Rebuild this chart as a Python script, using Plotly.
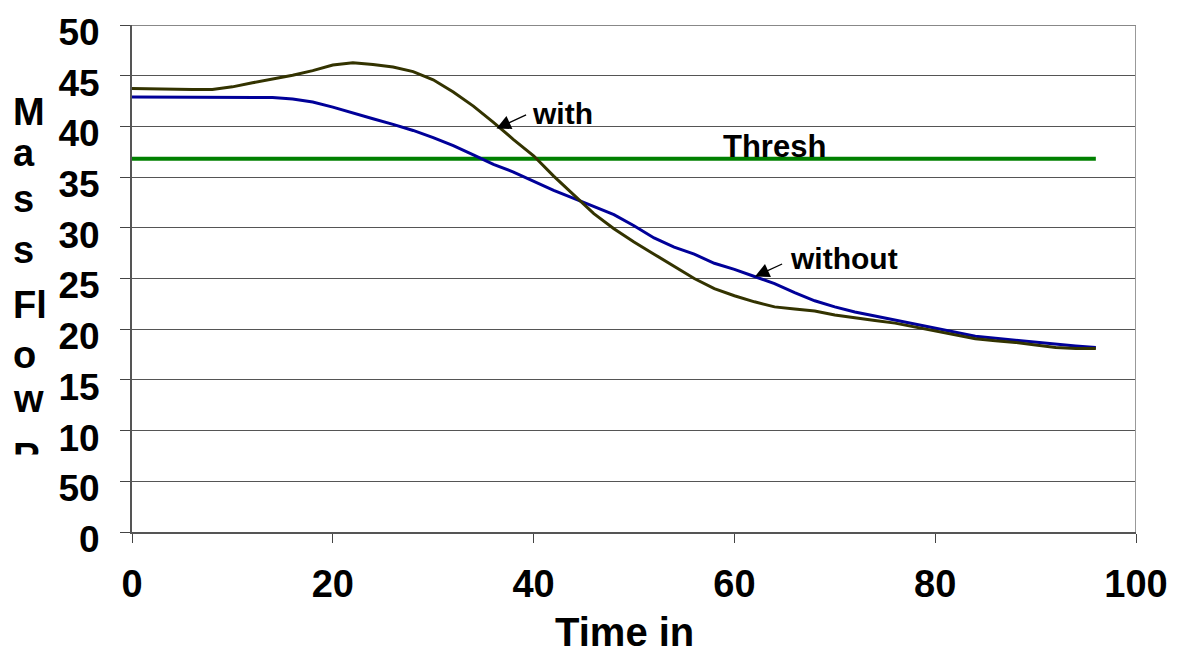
import plotly.graph_objects as go

# ---- data ----
time = [0, 2, 4, 6, 8, 10, 12, 14, 16, 18, 20, 22, 24, 26, 28, 30, 32, 34, 36, 38, 40, 42, 44, 46, 48,
        50, 52, 54, 56, 58, 60, 62, 64, 66, 68, 70, 72, 74, 76, 78, 80, 82, 84, 86, 88, 90, 92, 94, 96]
with_flow = [43.75, 43.7, 43.65, 43.65, 43.65, 43.9, 44.3, 44.65, 45.05, 45.5, 46.05, 46.27, 46.1, 45.85,
             45.4, 44.6, 43.4, 42.0, 40.4, 38.7, 37.1, 35.1, 33.2, 31.4, 29.9, 28.6, 27.4, 26.2, 25.0,
             24.0, 23.3, 22.7, 22.2, 22.0, 21.8, 21.4, 21.1, 20.85, 20.6, 20.2, 19.8, 19.4, 19.05, 18.85,
             18.7, 18.45, 18.2, 18.1, 18.1]
without_flow = [42.9, 42.9, 42.9, 42.9, 42.9, 42.9, 42.9, 42.85, 42.7, 42.4, 41.9, 41.3, 40.75, 40.2,
                39.6, 38.9, 38.1, 37.2, 36.25, 35.5, 34.6, 33.7, 32.9, 32.1, 31.3, 30.2, 29.0, 28.1, 27.4,
                26.5, 25.9, 25.2, 24.5, 23.6, 22.8, 22.2, 21.7, 21.3, 20.9, 20.5, 20.1, 19.7, 19.3, 19.1,
                18.9, 18.7, 18.5, 18.35, 18.2]
thresh_x = [0, 96]
thresh_y = [36.8, 36.8]

y_tickvals = [0, 5, 10, 15, 20, 25, 30, 35, 40, 45, 50]
y_ticktext = ["0", "50", "10", "15", "20", "25", "30", "35", "40", "45", "50"]
x_tickvals = [0, 20, 40, 60, 80, 100]
x_ticktext = ["0", "20", "40", "60", "80", "100"]
y_title_letters = ["M", "a", "s", "s", "Fl", "o", "w", "R"]

FONT = "Liberation Sans, Arial, sans-serif"

fig = go.Figure()
fig.add_trace(go.Scatter(x=thresh_x, y=thresh_y, mode="lines", name="Thresh",
                         line=dict(color="#008000", width=4), hoverinfo="skip"))
fig.add_trace(go.Scatter(x=time, y=without_flow, mode="lines", name="without",
                         line=dict(color="#000099", width=3)))
fig.add_trace(go.Scatter(x=time, y=with_flow, mode="lines", name="with",
                         line=dict(color="#333300", width=3)))

W, H = 1180, 659
L, R, T, B = 132, 43, 22, 127
pw, ph = W - L - R, H - T - B


def px_x(p):
    return (p - L) / pw


def px_y(p):
    return (H - B - p) / ph


annotations = []
# text labels
annotations.append(dict(x=42.9, y=41.3, xref="x", yref="y", text="<b>with</b>", showarrow=False,
                        xanchor="center", yanchor="middle",
                        font=dict(family=FONT, size=30, color="black")))
annotations.append(dict(x=64.0, y=38.0, xref="x", yref="y", text="<b>Thresh</b>", showarrow=False,
                        xanchor="center", yanchor="middle",
                        font=dict(family=FONT, size=31, color="black")))
annotations.append(dict(x=70.9, y=27.0, xref="x", yref="y", text="<b>without</b>", showarrow=False,
                        xanchor="center", yanchor="middle",
                        font=dict(family=FONT, size=30, color="black")))
# arrows
annotations.append(dict(x=36.3, y=39.8, xref="x", yref="y", ax=39.4, ay=41.2, axref="x", ayref="y",
                        text="", showarrow=True, arrowhead=2, arrowsize=2.2, arrowwidth=1.3,
                        arrowcolor="black"))
annotations.append(dict(x=62.05, y=25.2, xref="x", yref="y", ax=64.9, ay=26.5, axref="x", ayref="y",
                        text="", showarrow=True, arrowhead=2, arrowsize=2.2, arrowwidth=1.3,
                        arrowcolor="black"))
# x-axis title
annotations.append(dict(x=px_x(625), y=px_y(633), xref="paper", yref="paper", text="<b>Time in</b>",
                        xanchor="center", yanchor="middle",
                        showarrow=False, font=dict(family=FONT, size=40, color="black")))
# y-axis title, stacked letters
letter_mid_px = [110, 151, 197.5, 248.5, 303.5, 353.5, 398.5, 457]
for letter, mid in zip(y_title_letters, letter_mid_px):
    annotations.append(dict(x=px_x(11), y=px_y(mid), xref="paper", yref="paper", xanchor="left",
                            yanchor="middle", text="<b>%s</b>" % letter, showarrow=False,
                            font=dict(family=FONT, size=38, color="black")))
# white box clipping the last letter
annotations.append(dict(x=px_x(4), y=px_y(454), xref="paper", yref="paper", xanchor="left", yanchor="top",
                        text=" ", showarrow=False, width=52, height=30, bgcolor="white",
                        borderpad=0, font=dict(size=10)))

fig.update_layout(
    width=W, height=H,
    margin=dict(l=L, r=R, t=T, b=B, pad=0),
    paper_bgcolor="white", plot_bgcolor="white",
    showlegend=False,
    font=dict(family=FONT, color="black"),
    xaxis=dict(range=[0, 100], tickvals=x_tickvals, ticktext=x_ticktext,
               tickfont=dict(family=FONT, size=38, color="black", weight="bold"), ticks="outside", ticklen=9,
               tickcolor="#444", tickwidth=1, showline=True, linecolor="#555", linewidth=2,
               showgrid=False, zeroline=False, ticklabelstandoff=8),
    yaxis=dict(range=[0, 50], tickvals=y_tickvals, ticktext=y_ticktext,
               tickfont=dict(family=FONT, size=37, color="black", weight="bold"), ticks="outside", ticklen=10,
               tickcolor="#444", tickwidth=1, showline=True, linecolor="#555", linewidth=2,
               showgrid=True, gridcolor="#555", gridwidth=1, zeroline=False,
               ticklabelstandoff=13, ticklabelshift=7),
    annotations=annotations,
    shapes=[dict(type="line", xref="x", yref="y", x0=100, x1=100, y0=0, y1=50,
                 line=dict(color="#999", width=2)),
            dict(type="line", xref="x", yref="y", x0=0, x1=100, y0=50, y1=50,
                 line=dict(color="#888", width=2))],
)

fig.write_html("out.html")
